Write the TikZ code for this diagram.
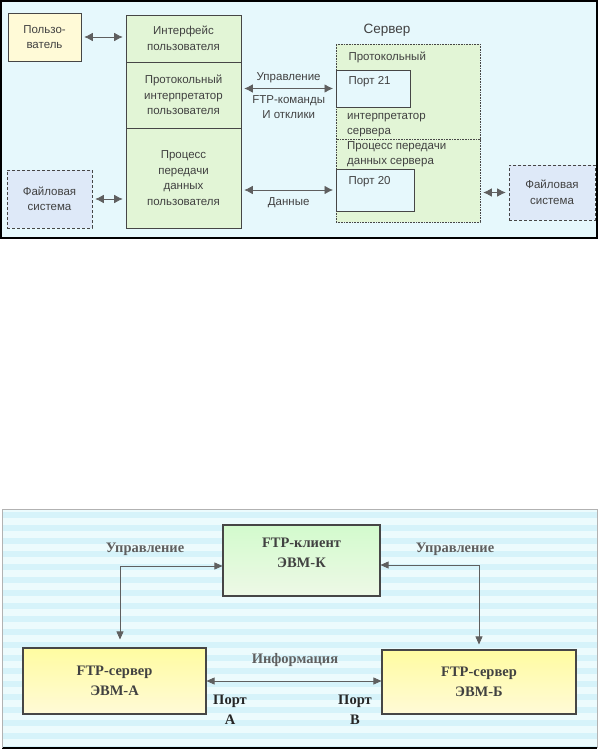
\documentclass[tikz,border=0pt]{standalone}
\usepackage{fontspec}
\setmainfont{Liberation Sans}
\newfontfamily\serifbold[BoldFont={Liberation Serif Bold}]{Liberation Serif}
\usetikzlibrary{arrows.meta,positioning,calc}
\definecolor{panelfill}{RGB}{230,248,252}
\definecolor{stripeA}  {RGB}{214,243,250}
\definecolor{stripeB}  {RGB}{236,251,253}
\definecolor{userfill} {RGB}{255,250,215}
\definecolor{greenfill}{RGB}{226,245,214}
\definecolor{bluefill} {RGB}{222,233,248}
\definecolor{boxedge}  {RGB}{ 70, 70, 70}
\definecolor{txt}      {RGB}{ 65, 65, 65}
\definecolor{arrgray}  {RGB}{ 95, 95, 95}

\begin{document}
\begin{tikzpicture}[
  x=1pt, y=-1pt,
  font=\fontsize{11.5}{15.5}\selectfont,
  every node/.style={align=center, text=txt},
  box/.style={
      rectangle, draw=boxedge, line width=0.6pt,
      inner sep=2pt
  },
  userbox/.style={box, fill=userfill},
  greenbox/.style={box, fill=greenfill},
  fsbox/.style={box, fill=bluefill, densely dashed},
  portbox/.style={box, fill=panelfill, anchor=west},
  arr/.style={{Latex[length=8.5pt,width=8.5pt]}-{Latex[length=8.5pt,width=8.5pt]},
              draw=arrgray, line width=0.7pt, shorten <=3pt, shorten >=3pt},
  ftpbox/.style={
      rectangle, draw=boxedge, line width=1.1pt,
      font=\serifbold\bfseries\fontsize{14.5}{20}\selectfont
  },
  slab/.style={font=\serifbold\bfseries\fontsize{14.5}{20}\selectfont,
               text=arrgray},
  plab/.style={font=\serifbold\bfseries\fontsize{14.5}{20}\selectfont,
               text=black!85},
  barr/.style={{Triangle[length=8pt,width=7pt]}-{Triangle[length=8pt,width=7pt]},
               draw=arrgray, line width=0.7pt}
]
\useasboundingbox (0,0) rectangle (598,750);

% =========================================================
% TOP PANEL: client / server scheme
% =========================================================
\draw[fill=panelfill, line width=1.4pt] (1,1) rectangle (597,238);

% client side
\node[userbox, minimum width=73pt, minimum height=48pt] (user) at (44.5,37)
     {Пользо-\\ватель};
\node[greenbox, minimum width=115pt, minimum height=47pt] (uif) at (183.5,38.5)
     {Интерфейс\\пользователя};
\node[greenbox, minimum width=115pt, minimum height=66pt] (upi) at (183.5,95)
     {Протокольный\\интерпретатор\\пользователя};
\node[greenbox, minimum width=115pt, minimum height=100pt] (udtp) at (183.5,178)
     {Процесс\\передачи\\данных\\пользователя};
\node[fsbox, minimum width=85pt, minimum height=58pt] (ufs) at (49.5,199)
     {Файловая\\система};

% server side
\node[font=\fontsize{13.5}{16}\selectfont] (srvlab) at (387,30) {Сервер};
\node[greenbox, densely dotted, minimum width=144pt, minimum height=95pt] (spi)
     at (408,91.5) {};
\node[greenbox, densely dotted, minimum width=144pt, minimum height=83pt] (sdtp)
     at (408,180.5) {};
\node[portbox, minimum width=74pt, minimum height=37pt] (port21) at (336,88.5) {};
\node[portbox, minimum width=78pt, minimum height=42pt] (port20) at (336,190) {};
\node[anchor=west] (p21t) at (345,82) {Порт 21};
\node[anchor=west] (p20t) at (345,182) {Порт 20};
\node[anchor=west] (spit) at (345,57) {Протокольный};
\node[anchor=north west, align=left, inner sep=0pt] (spib) at (347,113)
     {интерпретатор\\сервера};
\node[anchor=north west, align=left, inner sep=0pt] (sdtpt) at (347,141)
     {Процесс передачи\\данных сервера};
\node[fsbox, minimum width=86pt, minimum height=55pt] (sfs) at (552,192.5)
     {Файловая\\система};

% connectors
\draw[arr] (user.east) -- (user.east -| uif.west);
\draw[arr] (ufs.east) -- (ufs.east -| udtp.west);
\draw[arr] (port21.west -| upi.east) --
           node[above=2pt] {Управление}
           node[below=3pt] {FTP-команды\\И отклики} (port21.west);
\draw[arr] (port20.west -| udtp.east) --
           node[below=4pt] {Данные} (port20.west);
\draw[arr] (sfs.west -| sdtp.east) -- (sfs.west);

% =========================================================
% BOTTOM PANEL: third-party transfer
% =========================================================
\begin{scope}
  \clip (2,509) rectangle (597,748);
  \fill[stripeB] (2,509) rectangle (597,748);
  \foreach \k in {0,...,18}
    \fill[stripeA] (2,{512+13*\k}) rectangle (597,{518+13*\k});
\end{scope}
\draw[line width=1.4pt] (2,748) -- (597,748);
\draw[line width=0.6pt, draw=gray!60] (2,748) -- (2,509) -- (597,509) -- (597,748);

\node[ftpbox, top color=greenfill!80!green!60, bottom color=greenfill!60,
      minimum width=157pt, minimum height=71pt] (cliK) at (301.5,560.5) {};
\node (cliKt) at (301.5,553) [font=\serifbold\bfseries\fontsize{14.5}{20}\selectfont]
      {FTP-клиент\\ЭВМ-К};
\node[ftpbox, top color=userfill!70!yellow!90, bottom color=userfill,
      minimum width=183pt, minimum height=66pt] (srvA) at (114.5,681)
      {FTP-сервер\\ЭВМ-А};
\node[ftpbox, top color=userfill!70!yellow!90, bottom color=userfill,
      minimum width=194pt, minimum height=64pt] (srvB) at (479,682)
      {FTP-сервер\\ЭВМ-Б};

% control and data connectors
\coordinate (ctlA) at (120,566);
\coordinate (ctlB) at (479,565);
\draw[barr] (cliK.west |- ctlA) -- (ctlA) -- ([yshift=8pt]ctlA |- srvA.north);
\draw[barr] (cliK.east |- ctlB) -- (ctlB) -- ([yshift=5pt]ctlB |- srvB.north);
\draw[barr] (srvA.east) -- (srvA.east -| srvB.west);

\node[slab] (ctlAt) at (145,549) {Управление};
\node[slab] (ctlBt) at (455,549) {Управление};
\node[slab] (infot) at (295,660) {Информация};
\node[plab] (portA) at (230,710) {Порт\\А};
\node[plab] (portB) at (355,710) {Порт\\В};

\end{tikzpicture}
\end{document}
